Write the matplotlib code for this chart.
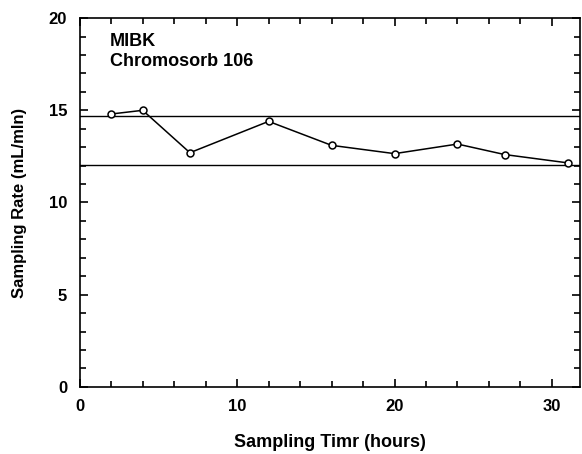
import numpy as np
import matplotlib.pyplot as plt
from matplotlib.ticker import MultipleLocator

# sampling time (hours) and sampling rate (mL/min)
hours = [2, 4, 7, 12, 16, 20, 24, 27, 31]
rate = [14.8, 15.0, 12.7, 14.4, 13.1, 12.65, 13.17, 12.6, 12.15]
upper_limit = 14.67
lower_limit = 12.05

plt.rcParams['font.family'] = ['Liberation Sans', 'DejaVu Sans']
plt.rcParams['font.weight'] = 'bold'

fig = plt.figure(figsize=(5.82, 4.54), dpi=100)
ax = fig.add_axes([0.137, 0.148, 0.86, 0.812])

ax.axhline(upper_limit, color='black', lw=1.0)
ax.axhline(lower_limit, color='black', lw=1.0)
ax.plot(hours, rate, color='black', lw=1.1, marker='o', markersize=5,
        markerfacecolor='white', markeredgecolor='black', markeredgewidth=1.1, zorder=3)

ax.set_xlim(0, 31.8)
ax.set_ylim(0, 20)
ax.xaxis.set_major_locator(MultipleLocator(10))
ax.xaxis.set_minor_locator(MultipleLocator(2))
ax.yaxis.set_major_locator(MultipleLocator(5))
ax.yaxis.set_minor_locator(MultipleLocator(1))
ax.tick_params(which='both', direction='in', top=True, right=True, labelsize=12, width=1.2)
ax.tick_params(which='major', length=6)
ax.tick_params(which='minor', length=4)
ax.tick_params(axis='y', pad=9)
ax.tick_params(axis='x', pad=9)
for s in ax.spines.values():
    s.set_linewidth(1.2)

ax.text(0.06, 0.96, 'MIBK\nChromosorb 106', transform=ax.transAxes, fontsize=13,
        fontweight='bold', va='top', ha='left', linespacing=1.2)

ax.set_xlabel('Sampling Timr (hours)', fontsize=13, fontweight='bold', labelpad=14)
ax.set_ylabel('Sampling Rate (mL/mln)', fontsize=12, fontweight='bold', labelpad=16)

fig.savefig('out.png', dpi=100)
